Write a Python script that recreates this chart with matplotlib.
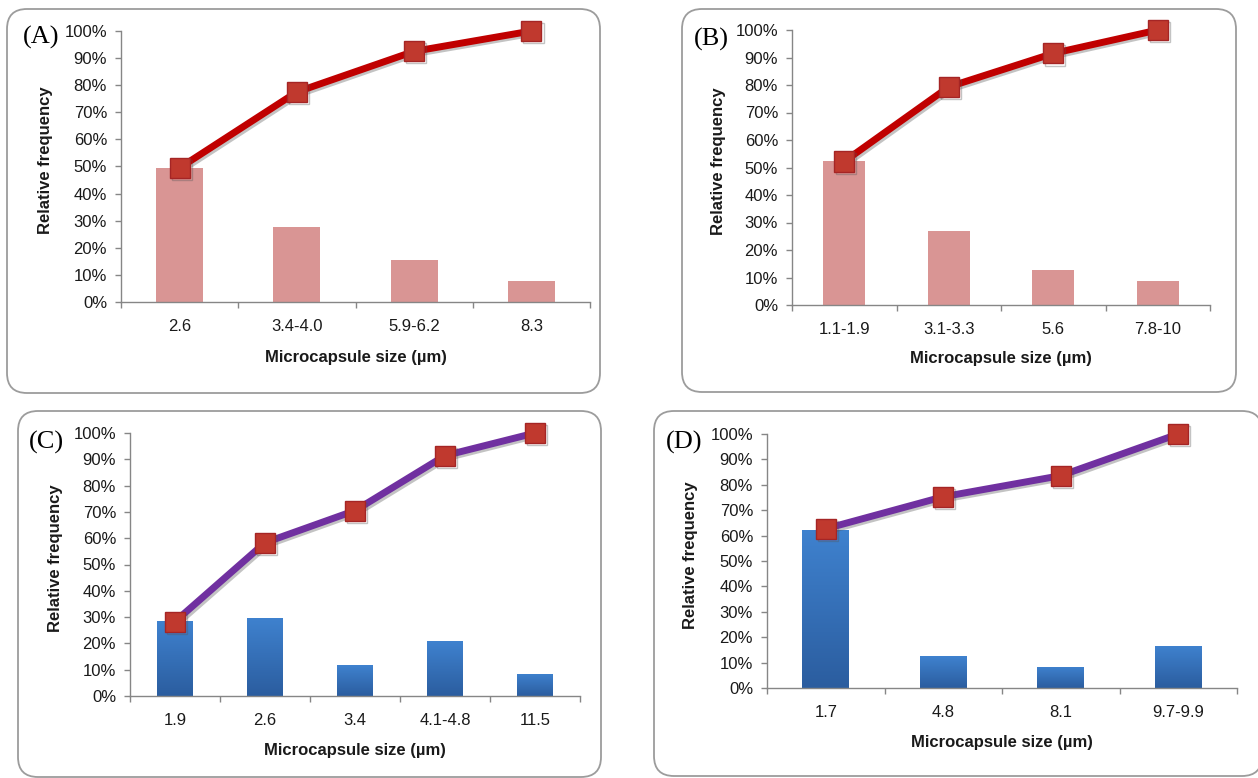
import numpy as np
import matplotlib
matplotlib.use('Agg')
import matplotlib.pyplot as plt
from matplotlib.patches import FancyBboxPatch
from matplotlib.colors import LinearSegmentedColormap
import matplotlib.patheffects as pe
from matplotlib.ticker import PercentFormatter, FixedLocator, NullFormatter

plt.rcParams['font.family'] = ['Liberation Sans', 'DejaVu Sans']

# ---------------- data ----------------
cats_a = ['2.6', '3.4-4.0', '5.9-6.2', '8.3']
freq_a = [0.495, 0.277, 0.156, 0.079]
cum_a = [0.495, 0.775, 0.925, 1.0]

cats_b = ['1.1-1.9', '3.1-3.3', '5.6', '7.8-10']
freq_b = [0.525, 0.270, 0.128, 0.087]
cum_b = [0.522, 0.793, 0.915, 1.0]

cats_c = ['1.9', '2.6', '3.4', '4.1-4.8', '11.5']
freq_c = [0.285, 0.297, 0.117, 0.208, 0.085]
cum_c = [0.283, 0.583, 0.705, 0.914, 1.0]

cats_d = ['1.7', '4.8', '8.1', '9.7-9.9']
freq_d = [0.624, 0.125, 0.083, 0.167]
cum_d = [0.627, 0.753, 0.836, 1.0]

panel_labels = ['(A)', '(B)', '(C)', '(D)']
xlabel = 'Microcapsule size (µm)'
ylabel = 'Relative frequency'

# ---------------- layout (pixels) ----------------
W, H = 1258, 778
fig = plt.figure(figsize=(W / 100, H / 100), dpi=100)
fig.patch.set_facecolor('white')

def fx(x):
    return x / W

def fy(y):
    return (H - y) / H

panels = [
    dict(cats=cats_a, freq=freq_a, cum=cum_a, style='red',
         ax=(121, 590, 302, 31), box=(7, 9, 600, 393),
         lab=(41, 37), xl=357, yl=46),
    dict(cats=cats_b, freq=freq_b, cum=cum_b, style='red',
         ax=(792, 1210, 305, 30), box=(682, 9, 1236, 392),
         lab=(711, 39), xl=358, yl=719),
    dict(cats=cats_c, freq=freq_c, cum=cum_c, style='blue',
         ax=(130, 580, 696, 433), box=(18, 411, 601, 777),
         lab=(46, 442), xl=750, yl=56),
    dict(cats=cats_d, freq=freq_d, cum=cum_d, style='blue',
         ax=(767, 1237, 688, 434), box=(654, 411, 1262, 776),
         lab=(684, 442), xl=742, yl=691),
]

axis_gray = '#868686'
blue_cmap = LinearSegmentedColormap.from_list('bl', ['#2B5D9F', '#3F82CF'])

for i, p in enumerate(panels):
    # rounded frame
    bx0, by0, bx1, by1 = p['box']
    frame = FancyBboxPatch((bx0 / 100, (H - by1) / 100), (bx1 - bx0) / 100, (by1 - by0) / 100,
                           boxstyle='round,pad=0,rounding_size=0.2',
                           transform=fig.dpi_scale_trans, fc='white', ec='#9C9C9C',
                           lw=1.3, zorder=0)
    fig.add_artist(frame)

    l, r, y0, y100 = p['ax']
    ax = fig.add_axes([fx(l), fy(y0), (r - l) / W, (y0 - y100) / H])
    ax.set_facecolor('none')
    n = len(p['cats'])
    x = np.arange(n)

    if p['style'] == 'red':
        bars = ax.bar(x, p['freq'], width=0.4, color='#D99594', zorder=2)
        line_color = '#C00000'
    else:
        bars = ax.bar(x, p['freq'], width=0.4, color='#3470B8', zorder=2)
        grad = np.linspace(0, 1, 256).reshape(-1, 1)
        for b in bars:
            bx, by = b.get_x(), b.get_y()
            bw, bh = b.get_width(), b.get_height()
            im = ax.imshow(grad, cmap=blue_cmap, origin='lower', aspect='auto',
                           extent=[bx, bx + bw, by, by + bh], zorder=2.1)
            im.set_clip_path(b)
        line_color = '#7030A0'

    ax.plot(x, p['cum'], color=line_color, lw=5.0, solid_capstyle='round',
            marker='s', markersize=14.5, markerfacecolor='#C0392E',
            markeredgecolor='#A52525', markeredgewidth=1.0, zorder=4, clip_on=False,
            path_effects=[pe.SimpleLineShadow(offset=(1.5, -1.5), shadow_color='#555555', alpha=0.35),
                          pe.Normal()])

    ax.set_xlim(-0.5, n - 0.5)
    ax.set_ylim(0, 1)

    for s in ['top', 'right']:
        ax.spines[s].set_visible(False)
    for s in ['left', 'bottom']:
        ax.spines[s].set_color(axis_gray)
        ax.spines[s].set_linewidth(1.0)

    ax.yaxis.set_major_locator(FixedLocator(np.linspace(0, 1, 11)))
    ax.yaxis.set_major_formatter(PercentFormatter(1.0, decimals=0))
    ax.tick_params(axis='y', direction='out', length=4, width=1, color=axis_gray,
                   labelsize=12, labelcolor='#1A1A1A', pad=6)

    ax.set_xticks(x)
    ax.set_xticklabels(p['cats'])
    ax.xaxis.set_minor_locator(FixedLocator(np.arange(n + 1) - 0.5))
    ax.xaxis.set_minor_formatter(NullFormatter())
    ax.tick_params(axis='x', which='major', length=0, labelsize=12,
                   labelcolor='#1A1A1A', pad=12)
    ax.tick_params(axis='x', which='minor', direction='out', length=4.5, width=1,
                   color=axis_gray)

    ax.set_xlabel(xlabel, fontsize=12, fontweight='bold', color='#1A1A1A')
    ax.xaxis.label.set_va('center')
    ax.xaxis.set_label_coords(fx((l + r) / 2), fy(p['xl']), transform=fig.transFigure)
    ax.set_ylabel(ylabel, fontsize=12, fontweight='bold', color='#1A1A1A')
    ax.yaxis.label.set_va('center')
    ax.yaxis.set_label_coords(fx(p['yl']), fy((y0 + y100) / 2 - 6), transform=fig.transFigure)

    fig.text(fx(p['lab'][0]), fy(p['lab'][1]), panel_labels[i],
             family=['Liberation Serif', 'DejaVu Serif'], fontsize=19,
             ha='center', va='center', color='black')

fig.savefig('out.png', dpi=100, facecolor='white')
